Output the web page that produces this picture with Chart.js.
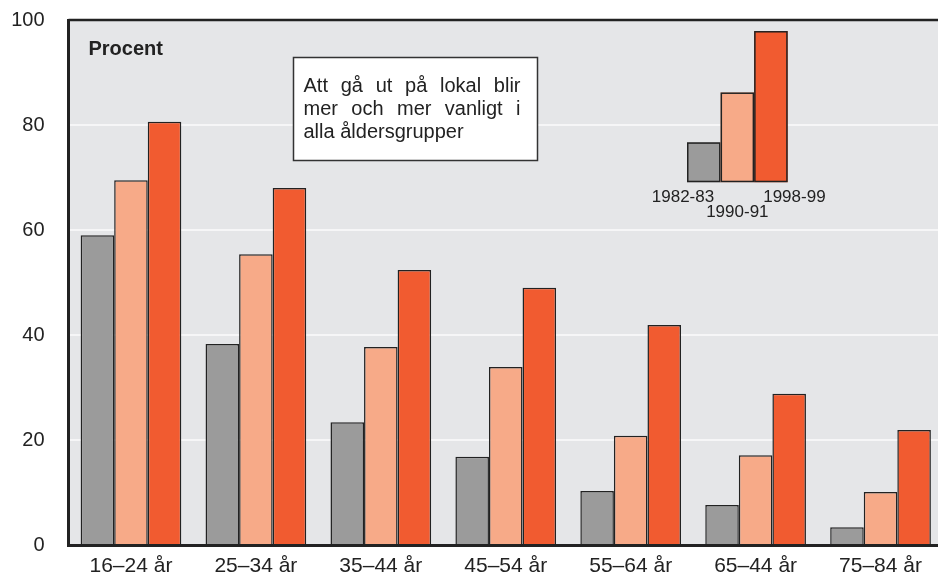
<!DOCTYPE html>
<html>
<head>
<meta charset="utf-8">
<script src="https://cdn.jsdelivr.net/npm/chart.js@4/dist/chart.umd.min.js"></script>
<style>
  html, body { margin: 0; padding: 0; background: #fff; overflow: hidden; }
  #wrap { width: 950px; height: 575px; }
</style>
</head>
<body>
<div id="wrap"><canvas id="chart" width="950" height="575"></canvas></div>
<script>
const ageGroups = ['16–24 år', '25–34 år', '35–44 år', '45–54 år', '55–64 år', '65–44 år', '75–84 år'];
const years = ['1982-83', '1990-91', '1998-99'];
const values8283 = [59.0, 38.3, 23.4, 16.8, 10.3, 7.6, 3.4];
const values9091 = [69.5, 55.4, 37.7, 33.9, 20.8, 17.1, 10.1];
const values9899 = [80.6, 68.0, 52.4, 49.0, 41.9, 28.8, 21.9];
const yTicks = [0, 20, 40, 60, 80, 100];
const noteLines = ['Att gå ut på lokal blir', 'mer och mer vanligt i', 'alla åldersgrupper'];

const colors = ['#9b9b9b', '#f7aa88', '#f15b30'];
const FONT = 'Arial, "Liberation Sans", sans-serif';

// grey plot background + top frame line
const backdrop = {
  id: 'backdrop',
  beforeDraw(chart) {
    const { ctx, chartArea: a } = chart;
    ctx.save();
    ctx.fillStyle = '#e5e6e8';
    ctx.fillRect(a.left, a.top, a.right - a.left, a.bottom - a.top);
    ctx.restore();
  },
  afterDraw(chart) {
    const { ctx, chartArea: a } = chart;
    ctx.save();
    ctx.strokeStyle = '#222';
    ctx.lineWidth = 2.5;
    ctx.beginPath();
    ctx.moveTo(a.left, a.top);
    ctx.lineTo(a.right, a.top);
    ctx.stroke();
    ctx.restore();
  }
};

// "Procent" label, note box and the small bar legend
const extras = {
  id: 'extras',
  afterDraw(chart) {
    const { ctx, chartArea: a, scales } = chart;
    const y = scales.y;
    ctx.save();
    ctx.fillStyle = '#222';
    ctx.font = 'bold 20px ' + FONT;
    ctx.textBaseline = 'alphabetic';
    ctx.fillText('Procent', a.left + 20, 55);

    // note box
    const bx = 293.5, by = 57.5, bw = 244, bh = 103;
    ctx.fillStyle = '#fff';
    ctx.fillRect(bx, by, bw, bh);
    ctx.strokeStyle = '#333';
    ctx.lineWidth = 1.5;
    ctx.strokeRect(bx, by, bw, bh);
    ctx.fillStyle = '#222';
    ctx.font = '20px ' + FONT;
    const left = bx + 10, right = bx + bw - 17;
    noteLines.forEach((line, i) => {
      const baseY = by + 34.5 + i * 23;
      const words = line.split(' ');
      if (i === noteLines.length - 1) {
        ctx.fillText(line, left, baseY);
        return;
      }
      const wordsW = words.reduce((s, w) => s + ctx.measureText(w).width, 0);
      const gap = (right - left - wordsW) / (words.length - 1);
      let x = left;
      words.forEach(w => {
        ctx.fillText(w, x, baseY);
        x += ctx.measureText(w).width + gap;
      });
    });

    // legend: scaled copy of the 65–44 år group
    const meta = chart.getDatasetMeta(0).data[5];
    const barW = meta.width;
    const unit = y.getPixelForValue(0) - y.getPixelForValue(1);
    const base = y.getPixelForValue(69.1);
    const startX = 687;
    const sets = [values8283, values9091, values9899];
    sets.forEach((arr, i) => {
      const h = arr[5] * unit;
      const x = startX + i * barW;
      ctx.fillStyle = colors[i];
      ctx.fillRect(x, base - h, barW, h);
      ctx.strokeStyle = '#222';
      ctx.lineWidth = 1.5;
      ctx.strokeRect(x + 0.75, base - h + 0.75, barW - 1.5, h - 1.5);
    });
    ctx.fillStyle = '#222';
    ctx.font = '17px ' + FONT;
    ctx.textAlign = 'center';
    ctx.textBaseline = 'top';
    ctx.fillText(years[0], startX - 4, base + 7);
    ctx.fillText(years[1], startX + barW * 1.5, base + 22);
    ctx.fillText(years[2], startX + barW * 3.2, base + 7);
    ctx.restore();
  }
};

new Chart(document.getElementById('chart'), {
  type: 'bar',
  data: {
    labels: ageGroups,
    datasets: years.map((yr, i) => ({
      label: yr,
      data: [values8283, values9091, values9899][i],
      backgroundColor: colors[i],
      borderColor: '#222',
      borderWidth: 1.5,
      categoryPercentage: 0.806,
      barPercentage: 1.0
    }))
  },
  options: {
    responsive: false,
    animation: false,
    layout: { padding: { top: 20, right: 7, left: 8, bottom: 0 } },
    plugins: {
      legend: { display: false },
      tooltip: { enabled: false }
    },
    scales: {
      x: {
        afterFit(axis) { axis.height = 30; },
        grid: { display: false, drawTicks: false },
        border: { display: true, color: '#222', width: 3 },
        ticks: { color: '#222', font: { family: FONT, size: 21 }, padding: 9 }
      },
      y: {
        min: 0,
        max: 100,
        afterFit(axis) { axis.width = 60.5; },
        afterBuildTicks(axis) { axis.ticks = yTicks.map(v => ({ value: v })); },
        grid: {
          color: ctx => (ctx.tick.value === 0 || ctx.tick.value === 100) ? 'rgba(0,0,0,0)' : '#f6f6f7',
          lineWidth: 2,
          drawTicks: true,
          tickLength: 24,
          tickColor: 'rgba(0,0,0,0)'
        },
        border: { display: true, color: '#222', width: 3 },
        ticks: { color: '#222', font: { family: FONT, size: 20 }, padding: 0 }
      }
    }
  },
  plugins: [backdrop, extras]
});
</script>
</body>
</html>
